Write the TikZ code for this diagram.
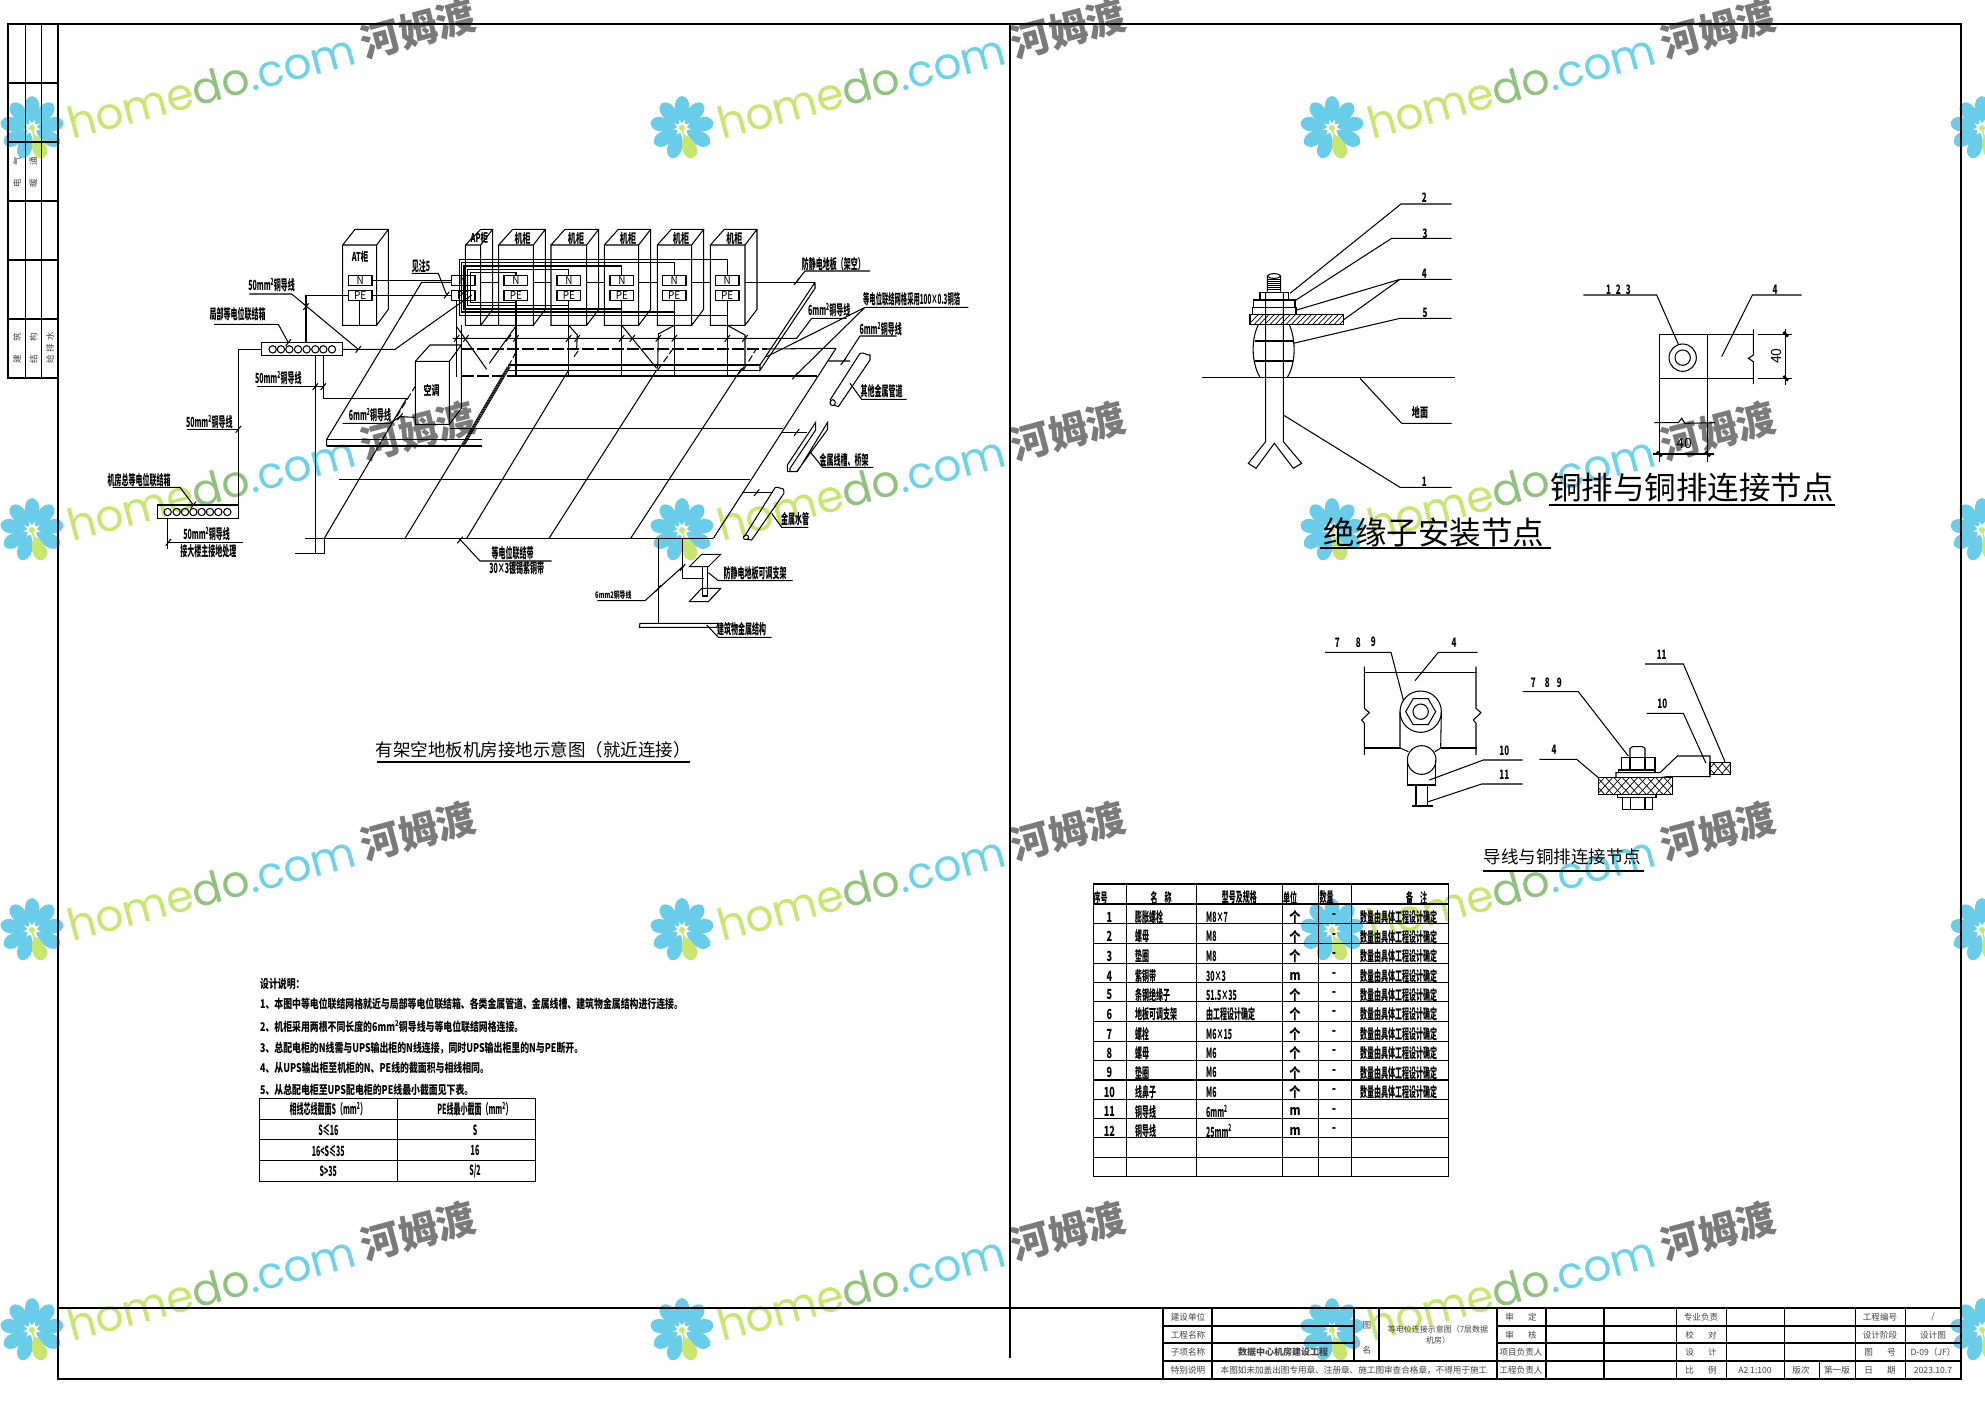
\documentclass[tikz,border=0pt]{standalone}
\usepackage{fontspec}
\setmainfont{Noto Sans CJK SC}
\newfontfamily\wmf{Poppins}
\newcommand\cadf{\fontsize{14}{14}\selectfont\bfseries}
\newcommand\numf{\fontsize{13}{13}\selectfont\bfseries}
\definecolor{wmlime}{HTML}{C6E66F}
\definecolor{wmgreen}{HTML}{8FC27C}
\definecolor{wmcyan}{HTML}{6CD2E8}
\definecolor{wmpetal}{HTML}{69CDEA}
\definecolor{wmgrey}{HTML}{7A7A7A}
\definecolor{tbgrey}{HTML}{444444}
\tikzset{
  wire/.style={line width=1.05pt,line join=miter},
  frameline/.style={line width=1.5pt},
  lbl/.style={inner sep=0pt,font=\cadf,xscale=.5},
  num/.style={inner sep=0pt,font=\numf,xscale=.62},
  tb/.style={inner sep=0pt,font=\fontsize{8.6}{10}\selectfont,text=tbgrey},
  note/.style={inner sep=0pt,anchor=west,font=\fontsize{12}{12}\selectfont\bfseries,xscale=.74},
  big/.style={inner sep=0pt,font=\fontsize{31.5}{32}\selectfont},
  mid/.style={inner sep=0pt,font=\fontsize{17.5}{18}\selectfont},
  zA/.style={shift={(60,190)},scale=1/3},
  zT/.style={shift={(240,960)},scale=1/3},
  zR/.style={shift={(1080,870)},scale=1/3},
  zI/.style={shift={(1180,180)},scale=1/3},
  zC/.style={shift={(1540,270)},scale=1/3},
  zW/.style={shift={(1320,620)},scale=1/3},
}
\newcommand\tk[2]{\draw[wire] (#1-8,#2+10)--(#1+8,#2-10);}
\newcommand\wmark[2]{%
  \begin{scope}[shift={(#1,#2)}]
    \foreach \a in {90,50,10,-30,-110,-150,170,130}{
      \fill[wmpetal,rotate=\a] (5,0) .. controls (12,8) and (30,11) .. (32,0) .. controls (30,-11) and (12,-8) .. (5,0);}
    \fill[wmlime,rotate=-70] (7,0) .. controls (14,8) and (30,11) .. (32,0) .. controls (30,-11) and (14,-8) .. (7,0);
    \fill[wmlime] (0,0) circle (3);
    \draw[wmlime,line width=1.5pt] (0,0)--(3,12);
    \node[inner sep=0pt,anchor=base west,rotate=15,font=\wmf\fontsize{44}{44}\selectfont] at (40,12)
      {\color{wmlime}home\color{wmgreen}do\color{wmcyan}.com};
    \node[inner sep=0pt,rotate=15,font=\bfseries\fontsize{39}{39}\selectfont,text=wmgrey] at (386,-99) {河姆渡};
  \end{scope}}
\begin{document}
\begin{tikzpicture}[x=1pt,y=-1pt]
\useasboundingbox (0,0) rectangle (1985,1403);
\fill[white] (0,0) rectangle (1985,1403);
% ---- watermarks
\foreach \wy in {128,530,930,1330}{\foreach \wx in {32,682,1332,1982}{\wmark{\wx}{\wy}}}
% ---- frame
\draw[frameline] (58,24)--(1961,24)--(1961,1379)--(58,1379)--cycle;
\draw[frameline] (1010,24)--(1010,1358);
\draw[frameline] (58,1308)--(1961,1308);
\draw[line width=2.2pt] (58,1379)--(1961,1379);
% sidebar
\draw[wire] (58,24)--(8,24)--(8,378)--(58,378);
\draw[wire] (25.7,24)--(25.7,378) (41.7,24)--(41.7,378);
\foreach \sy in {83,142,201,260,319}{\draw[wire] (8,\sy)--(58,\sy);}
\node[tb,rotate=90] at (17,172) {电\hspace{14pt}气};
\node[tb,rotate=90] at (33.5,172) {暖\hspace{14pt}通};
\node[tb,rotate=90] at (17,348) {建\hspace{14pt}筑};
\node[tb,rotate=90] at (33.5,348) {结\hspace{14pt}构};
\node[tb,rotate=90] at (50,348) {给\hspace{3pt}排\hspace{3pt}水};
% ---- main isometric drawing
\begin{scope}[zA]
 % AT cabinet
 \draw[wire] (848,165) rectangle (950,406) (848,165)--(885,118)--(985,118)--(950,165) (985,118)--(985,358)--(950,406);
 \draw[wire] (898,332)--(898,406);
 \node[num,font=\fontsize{12}{12}\selectfont\bfseries] (atlabel) at (900,200) {AT柜};
 % AP cabinet
 \draw[wire] (1216,406)--(1216,165)--(1262,118)--(1298,118)--(1262,165)--(1216,165) (1262,165)--(1262,406) (1298,118)--(1298,358)--(1262,406) (1216,406)--(1316,406);
 \node[num,font=\fontsize{12}{12}\selectfont\bfseries] at (1258,145) {AP柜};
 % server cabinets
 \foreach \xa/\xb/\tx in {1316/1420/1368,1473/1580/1526,1633/1736/1685,1792/1895/1843,1951/2055/2002}{
   \draw[wire] (\xa,165) rectangle (\xb,406) (\xa,165)--(\xa+42,118)--(\xb+36,118)--(\xb,165) (\xb+36,118)--(\xb+36,358)--(\xb,406);
   \node[num] at (\xb-32,145) {机柜};
 }
 % floor rear edge between cabinets
 \draw[wire] (1262,277)--(1316,277) (1420,277)--(1473,277) (1580,277)--(1633,277) (1736,277)--(1792,277) (1895,277)--(1951,277) (2055,277)--(2265,277);
 % nested N / PE wires
 \foreach \lx/\ty/\by/\tx in {1198/208/376/2002,1205/218/366/1843,1212/228/357/1685,1222/238/347/1526,1232/248/338/1368}{
   \draw[wire] (\tx,257)--(\tx,\ty)--(\lx,\ty)--(\lx,\by)--(\tx,\by)--(\tx,332);
 }
 % terminal boxes
 \foreach \bx/\by/\t in {865/257/N,865/302/PE,1174/257/N,1174/302/PE,1332/257/N,1332/302/PE,1491/257/N,1491/302/PE,1650/257/N,1650/302/PE,1807/257/N,1807/302/PE,1966/257/N,1966/302/PE}{
   \draw[wire] (\bx,\by) rectangle ++(71,30);
   \node[inner sep=0pt,font=\fontsize{11}{11}\selectfont,xscale=.9] at (\bx+35.5,\by+15) {\t};
 }
 \draw[wire] (935,272)--(1174,272) (935,317)--(1174,317);
 \draw[wire] (865,317)--(738,317)--(738,458);
 \tk{738}{350}\tk{1160}{315}
 % drops from the cabinets to the grid
 \foreach \tx in {1368,1526,1685,1843,2002}{\draw[wire] (\tx,332)--(\tx,558);}
 \draw[wire] (1190,332)--(1190,560) (1205,406)--(1205,465);
 \draw[wire] (1190,410)--(1280,538) (1368,408)--(1288,520);
 \draw[wire] (1526,406)--(1552,435)--(1550,475);
 \draw[wire] (1685,406)--(1790,535);
 \draw[wire] (1843,406)--(1795,432)--(1793,535);
 \draw[wire] (2002,406)--(2055,435)--(2055,525);
 % grid horizontals
 \draw[wire] (1178,445)--(2210,445)--(2255,385)--(2360,385);
 \draw[wire,dash pattern=on 12pt off 3pt] (1205,477)--(2120,477);
 \draw[wire] (2120,477)--(2328,475);
 \draw[wire,dash pattern=on 12pt off 3pt] (1205,558)--(1340,558);
 \draw[wire] (1340,558)--(2270,558);
 \draw[wire] (1170,715)--(2170,715);
 \draw[wire] (838,868)--(2070,868);
 \draw[wire] (735,1045)--(1960,1045);
 \draw[wire] (1345,525)--(2100,525) (1345,541)--(2100,541);
 % raised floor edge
 \draw[wire] (800,768)--(800,748)--(1085,277)--(1174,277);
 \draw[wire] (800,748)--(1265,748) (800,768)--(1265,768);
 \draw[wire] (2265,277)--(2265,295)--(2100,541)--(2100,525)--(2265,277);
 % hatched strip
 \foreach \o in {0,3,6,9}{\draw[line width=.7pt] (1205+\o,765)--(1342+\o,530);}
 % grid diagonals
 \draw[wire] (793,1045)--(1040,625);
 \draw[wire,dash pattern=on 7pt off 3pt] (1010,680)--(1065,590);
 \draw[wire] (1035,1045)--(1205,765);
 \draw[wire] (1220,1045)--(1526,540);
 \draw[wire] (1467,1045)--(1790,540);
 \draw[wire] (1712,1045)--(2045,535);
 \draw[wire] (1960,1045)--(2328,475);
 \draw[wire,dash pattern=on 7pt off 3pt] (1345,530)--(1372,478);
 \draw[wire,dash pattern=on 7pt off 3pt] (1542,500)--(1560,475);
 \draw[wire,dash pattern=on 7pt off 3pt] (1793,540)--(1840,475);
 \draw[wire,dash pattern=on 7pt off 3pt] (2050,540)--(2090,475);
 \foreach \t in {1190,1218,1345,1368,1526,1552,1685,1717,1795,1843,2002,2055}{\tk{\t}{445}}
 % air conditioner
 \draw[wire] (1066,514) rectangle (1168,703) (1066,514)--(1110,465)--(1204,465)--(1168,514) (1204,465)--(1204,655)--(1168,703);
 \draw[wire] (1204,477)--(1204,558);
 \node[num] at (1115,602) {空调};
 % local bus bar
 \draw[wire] (604,458) rectangle (847,496);
 \foreach \c in {638,663,688,714,740,766,790,816}{\draw[wire] (\c,478) circle (11);}
 \draw[wire] (604,478)--(535,478)--(535,945);
 \draw[wire] (847,478)--(1005,478)--(1235,315);
 \draw[wire] (766,496)--(766,1090) (705,1090)--(793,1090)--(793,1045);
 \draw[wire] (790,496)--(790,625)--(1040,625);
 % main bus bar
 \draw[wire] (292,945) rectangle (535,985);
 \foreach \c in {323,350,375,400,425,450,475,502}{\draw[wire] (\c,966) circle (11);}
 \draw[wire] (323,985)--(323,1078);
 % leaders
 \draw[wire] (1055,250)--(1135,250)--(1160,315);
 \draw[wire] (568,312)--(695,312)--(895,478); \tk{895}{478}
 \draw[wire] (462,403)--(655,403)--(685,458); \tk{685}{458}
 \draw[wire] (592,590)--(790,590); \tk{766}{590}\tk{790}{590}
 \draw[wire] (848,700)--(990,700)--(1020,680)--(1066,682); \tk{1020}{680}
 \draw[wire] (382,718)--(535,718); \tk{535}{718}
 \draw[wire] (158,892)--(360,892)--(400,945); \tk{400}{945}
 \draw[wire] (325,1057)--(550,1057); \tk{325}{1057}
 \draw[wire] (1197,1045)--(1260,1113)--(1475,1113); \tk{1200}{1050}
 % labels left
 \node[lbl] at (635,285) {50mm\textsuperscript{2}铜导线};
 \node[lbl] at (533,373) {局部等电位联结箱};
 \node[lbl] at (655,565) {50mm\textsuperscript{2}铜导线};
 \node[lbl] at (930,675) {6mm\textsuperscript{2}铜导线};
 \node[lbl] at (448,697) {50mm\textsuperscript{2}铜导线};
 \node[lbl] at (237,870) {机房总等电位联结箱};
 \node[lbl] at (440,1033) {50mm\textsuperscript{2}铜导线};
 \node[lbl] at (445,1085) {接大楼主接地处理};
 \node[lbl] at (1083,228) {见注5};
 \node[lbl] at (1358,1090) {等电位联结带};
 \node[lbl] at (1370,1135) {30×3镀锡紫铜带};
 % right side (+1320)
 \draw[wire] (2210,275)--(2235,243)--(2430,243); \tk{2210}{275}
 \node[lbl] at (2320,222) {防静电地板（架空）};
 \draw[wire] (2415,352)--(2725,352) (2415,352)--(2205,558) (2415,352)--(2120,500);
 \tk{2205}{558}\tk{2045}{540}
 \node[lbl,xscale=.9] at (2555,328) {等电位联结网格采用100×0.3铜箔};
 \node[lbl] at (2308,360) {6mm\textsuperscript{2}铜导线};
 \node[lbl] at (2462,417) {6mm\textsuperscript{2}铜导线};
 \draw[wire] (2510,438)--(2400,438)--(2350,515) (2305,513)--(2370,513); \tk{2350}{515}
 % other pipe
 \draw[wire] (2400,490)--(2310,630) (2430,510)--(2335,650)--(2322,645);
 \draw[wire] (2400,490) .. controls (2415,485) and (2418,498) .. (2430,495) .. controls (2425,500) and (2435,505) .. (2430,510);
 \draw[wire] (2318,638) ellipse (8 and 9);
 \draw[wire] (2540,628)--(2405,628)--(2370,580);
 \node[lbl] at (2465,603) {其他金属管道};
 % tray
 \draw[wire] (2182,845)--(2182,825)--(2267,697)--(2267,720)--(2190,835)--(2190,845) (2182,845)--(2212,845)--(2303,697)--(2303,718)--(2210,845);
 \draw[wire] (2165,727)--(2240,727); \tk{2210}{727}
 \draw[wire] (2250,785)--(2288,832)--(2440,832);
 \node[lbl] at (2352,810) {金属线槽、桥架};
 % water pipe
 \draw[wire] (2145,893)--(2053,1040) (2172,910)--(2075,1050)--(2060,1048);
 \draw[wire] (2145,893) .. controls (2155,888) and (2160,898) .. (2170,897) .. controls (2168,902) and (2175,905) .. (2172,910);
 \draw[wire] (2058,1042) ellipse (8 and 7);
 \draw[wire] (2045,908)--(2140,908); \tk{2090}{908}
 \draw[wire] (2245,1012)--(2165,1012)--(2135,970);
 \node[lbl] at (2205,988) {金属水管};
 % support & structure
 \draw[wire] (1795,1045)--(1795,1300);
 \draw[wire] (1740,1300)--(1975,1300)--(1970,1312)--(1738,1312)--cycle;
 \draw[wire] (1940,1305)--(1975,1342)--(2135,1342);
 \node[lbl] at (2045,1318) {建筑物金属结构};
 \draw[wire] (1868,1045)--(1868,1165)--(1932,1165);
 \draw[wire] (1888,1130)--(1925,1093)--(1982,1093)--(1945,1130)--cycle;
 \draw[wire] (1927,1130)--(1927,1218)--(1942,1218)--(1942,1130);
 \draw[wire] (1888,1235)--(1925,1195)--(1982,1195)--(1945,1235)--cycle;
 \draw[wire] (1945,1148)--(1975,1172)--(2198,1172);
 \node[lbl] at (2085,1148) {防静电地板可调支架};
 \draw[wire] (1612,1232)--(1755,1232)--(1868,1130); \tk{1795}{1195}\tk{1868}{1132}
 \node[lbl,font=\fontsize{9}{9}\selectfont\bfseries,xscale=1.3] at (1660,1215) {6mm2铜导线};
\end{scope}
% title left
\node[mid] (titleleft) at (533,750) {有架空地板机房接地示意图（就近连接）};
\draw[line width=1.8pt] (377,762)--(690,762);
% ---- design notes
\begin{scope}[zT]
 \node[note] at (60,72) {设计说明：};
 \node[note] at (60,133) {1、本图中等电位联结网格就近与局部等电位联结箱、各类金属管道、金属线槽、建筑物金属结构进行连接。};
 \node[note] at (60,200) {2、机柜采用两根不同长度的6mm\textsuperscript{2}铜导线与等电位联结网格连接。};
 \node[note] at (60,265) {3、总配电柜的N线需与UPS输出柜的N线连接，同时UPS输出柜里的N与PE断开。};
 \node[note] at (60,325) {4、从UPS输出柜至机柜的N、PE线的截面积与相线相同。};
 \node[note] at (60,390) {5、从总配电柜至UPS配电柜的PE线最小截面见下表。};
 \draw[wire] (58,415) rectangle (886,664) (472,415)--(472,664);
 \foreach \ry in {478,539,601}{\draw[wire] (58,\ry)--(886,\ry);}
 \node[lbl] at (265,447) {相线芯线截面S（mm\textsuperscript{2}）};
 \node[lbl] at (705,447) {PE线最小截面（mm\textsuperscript{2}）};
 \node[lbl] at (265,510) {S≤16}; \node[lbl] at (705,510) {S};
 \node[lbl] at (265,572) {16<S≤35}; \node[lbl] at (705,572) {16};
 \node[lbl] at (265,634) {S>35}; \node[lbl] at (705,634) {S/2};
\end{scope}
% ---- material table
\begin{scope}[zR]
 \draw[wire] (40,42) rectangle (1105,920);
 \foreach \cx in {140,350,608,716,815}{\draw[wire] (\cx,42)--(\cx,920);}
 \foreach \ry in {102,160,220,280,338,395,455,515,572,630,688,745,803,862}{\draw[wire] (40,\ry)--(1105,\ry);}
 \node[lbl] at (62,83) {序号};
 \node[lbl] at (243,83) {名\hspace{14pt}称};
 \node[lbl] at (478,83) {型号及规格};
 \node[lbl] at (630,83) {单位};
 \node[lbl] at (740,83) {数量};
 \node[lbl] at (1010,83) {备\hspace{14pt}注};
 \foreach \ry/\n/\a/\b/\u in {142/1/膨胀螺栓/M8×7/个,200/2/螺母/M8/个,258/3/垫圈/M8/个,318/4/紫铜带/30×3/m,375/5/条钢绝缘子/51.5×35/个,432/6/地板可调支架/由工程设计确定/个,493/7/螺栓/M6×15/个,550/8/螺母/M6/个,608/9/垫圈/M6/个,666/10/线鼻子/M6/个,725/11/铜导线/6mm\textsuperscript{2}/m,783/12/铜导线/25mm\textsuperscript{2}/m}{
   \node[lbl,xscale=1.3] at (88,\ry) {\n};
   \node[lbl,anchor=west] at (165,\ry) {\a};
   \node[lbl,anchor=west] at (378,\ry) {\b};
   \node[lbl,xscale=1.6] at (645,\ry) {\u};
   \node[lbl,xscale=1.6] at (762,\ry-3) {-};
 }
 \foreach \ry in {142,200,258,318,375,432,493,550,608,666}{
   \node[lbl,anchor=west] at (840,\ry) {数量由具体工程设计确定};
 }
\end{scope}
% ---- insulator detail
\begin{scope}[zI]
 \draw[wire] (262,335)--(262,288) (302,335)--(302,288) (282,288) ellipse (20 and 7);
 \foreach \ty in {298,304,310,316,322,328}{\draw[line width=.6pt] (262,\ty)--(302,\ty);}
 \draw[wire] (240,358)--(240,337)--(325,337)--(325,358);
 \draw[wire] (220,380)--(220,360)--(345,360)--(345,380);
 \draw[wire] (218,403)--(218,382)--(348,382)--(348,403);
 \begin{scope}
  \clip (210,403) rectangle (490,434);
  \foreach \hx in {200,216,...,520}{\draw[line width=.7pt] (\hx,440)--(\hx+40,398);}
 \end{scope}
 \draw[wire] (210,403) rectangle (490,434);
 \draw[wire] (235,434) .. controls (212,480) and (215,550) .. (240,592);
 \draw[wire] (328,434) .. controls (348,480) and (348,550) .. (322,592);
 \draw[wire] (225,483)--(338,483);
 \draw[wire] (225,543)--(338,543);
 \draw[wire] (257,337)--(257,785)--(205,850)--(228,865)--(283,790)--(340,865)--(365,850)--(310,785)--(310,337);
 \draw[wire] (67,592)--(825,592);
 \draw[wire] (330,340)--(663,72)--(815,72);
 \draw[wire] (345,362)--(635,175)--(815,175);
 \draw[wire] (350,390)--(660,298)--(815,298) (490,420)--(660,298);
 \draw[wire] (340,490)--(660,415)--(815,415);
 \draw[wire] (540,595)--(665,730)--(815,730);
 \draw[wire] (310,705)--(660,922)--(815,922);
 \node[num] at (733,52) {2}; \node[num] at (735,160) {3}; \node[num] at (733,280) {4};
 \node[num] at (735,398) {5}; \node[num] at (720,697) {地面}; \node[num] at (733,905) {1};
\end{scope}
\node[big] (titleins) at (1434,532) {绝缘子安装节点};
\draw[line width=1.8pt] (1320,548)--(1551,548);
% ---- copper bar joint
\begin{scope}[zC]
 \draw[wire] (358,193)--(640,193) (358,325)--(640,325) (358,193)--(358,575) (503,193)--(503,575);
 \draw[wire] (640,178)--(640,255)--(625,265)--(640,275)--(640,342);
 \draw[wire] (343,458)--(415,458)--(425,445)--(435,460)--(525,458);
 \draw[wire] (428,263) circle (41) (428,263) circle (23);
 \draw[wire] (655,193)--(755,193) (655,325)--(755,325) (737,178)--(737,345);
 \draw[wire] (338,552)--(522,552);
 \foreach \p in {(737,193),(737,325),(358,552),(503,552)}{
   \draw[line width=2.6pt] \p ++(-7,-7)--++(14,14);}
 \node[inner sep=0pt,rotate=90,font=\fontsize{14}{14}\selectfont] at (708,258) {40};
 \node[inner sep=0pt,font=\fontsize{14}{14}\selectfont] at (432,522) {40};
 \draw[wire] (130,75)--(350,75)--(416,225);
 \draw[wire] (545,260)--(637,75)--(785,75);
 \node[num] at (235,58) {1\hspace{8pt}2\hspace{8pt}3};
 \node[num] at (705,58) {4};
\end{scope}
\node[big] (titlecopper) at (1692,488) {铜排与铜排连接节点};
\draw[line width=2pt] (1549,505)--(1835,505);
% ---- wire joint
\begin{scope}[zW]
 \draw[wire] (133,157)--(470,157) (133,384)--(240,384) (362,384)--(470,384);
 \draw[wire] (133,140)--(133,265)--(148,278)--(125,300)--(133,310)--(133,405);
 \draw[wire] (468,140)--(468,265)--(483,278)--(460,300)--(468,310)--(468,405);
 \draw[wire] (302,275) circle (62) (302,275) circle (23);
 \draw[wire] (347,275)--(324.5,314)--(279.5,314)--(257,275)--(279.5,236)--(324.5,236)--cycle;
 \draw[wire] (240,275)--(240,384)--(265,395) (364,275)--(362,384)--(345,395);
 \draw[wire] (305,420) circle (43);
 \draw[wire] (262,420)--(262,495)--(347,495)--(347,420);
 \draw[wire] (288,495)--(288,558) (323,495)--(323,558) (277,558)--(338,558);
 \draw[wire] (15,97)--(213,97)--(250,240);
 \draw[wire] (285,182)--(355,97)--(473,97);
 \draw[wire] (328,480)--(490,420)--(608,420);
 \draw[wire] (325,545)--(485,492)--(608,492);
 \node[num] at (52,68) {7}; \node[num] at (115,68) {8}; \node[num] at (160,66) {9};
 \node[num] at (402,68) {4}; \node[num] at (553,392) {10}; \node[num] at (553,463) {11};
 % side view
 \begin{scope}
  \clip (835,473) rectangle (1058,523);
  \foreach \hx in {800,825,...,1080}{\draw[line width=.7pt] (\hx,530)--(\hx+60,465) (\hx,465)--(\hx+60,530);}
 \end{scope}
 \draw[wire] (835,473) rectangle (1058,523);
 \begin{scope}
  \clip (1170,428) rectangle (1232,463);
  \foreach \hx in {1150,1175,...,1230}{\draw[line width=.7pt] (\hx,468)--(\hx+38,423) (\hx,423)--(\hx+38,468);}
 \end{scope}
 \draw[wire] (1170,428) rectangle (1232,463);
 \draw[wire] (930,412)--(930,385)--(938,380)--(967,380)--(975,385)--(975,412);
 \draw[wire] (905,450) rectangle (1005,412) (930,412)--(930,450) (975,412)--(975,450);
 \draw[wire] (895,450) rectangle (1005,458);
 \draw[wire] (888,473)--(888,458)--(1020,458)--(1072,408)--(1170,408)--(1170,470)--(1040,470)--(1020,473);
 \draw[wire] (892,523) rectangle (1008,533);
 \draw[wire] (908,533) rectangle (998,568) (932,533)--(932,568) (975,533)--(975,568);
 \draw[wire] (608,215)--(775,215)--(925,408);
 \draw[wire] (658,418)--(770,418)--(835,473);
 \draw[wire] (980,280)--(1090,280)--(1158,430);
 \draw[wire] (975,132)--(1090,132)--(1215,425);
 \node[num] at (640,187) {7}; \node[num] at (682,187) {8}; \node[num] at (718,187) {9};
 \node[num] at (702,390) {4}; \node[num] at (1027,252) {10}; \node[num] at (1025,105) {11};
 \node[mid] (titlewire) at (728,712) {导线与铜排连接节点};
 \draw[line width=1.8pt] (490,752)--(972,752);
\end{scope}
% ---- title block
\foreach \cx in {1163,1212,1497,1546,1604,1676,1726,1784,1855,1905}{\draw[wire] (\cx,1308)--(\cx,1379);}
\draw[wire] (1354,1308)--(1354,1361) (1379,1308)--(1379,1361) (1819,1361)--(1819,1379);
\foreach \ry in {1326,1343}{\draw[wire] (1163,\ry)--(1354,\ry) (1497,\ry)--(1961,\ry);}
\draw[wire] (1163,1361)--(1961,1361);
\node[tb] at (1188,1317) {建设单位}; \node[tb] at (1188,1335) {工程名称};
\node[tb] at (1188,1352) {子项名称}; \node[tb] at (1188,1370) {特别说明};
\node[tb,font=\fontsize{9}{10}\selectfont\bfseries] at (1283,1352) {数据中心机房建设工程};
\node[tb] at (1354,1370) {本图如未加盖出图专用章、注册章、施工图审查合格章，不得用于施工};
\node[tb] at (1367,1325) {图}; \node[tb] at (1367,1350) {名};
\node[tb,align=center,font=\fontsize{8}{11.5}\selectfont] at (1438,1335) {等电位连接示意图（7层数据\\机房）};
\node[tb] at (1521,1317) {审\hspace{14pt}定}; \node[tb] at (1521,1335) {审\hspace{14pt}核};
\node[tb] at (1521,1352) {项目负责人}; \node[tb] at (1521,1370) {工程负责人};
\node[tb] at (1701,1317) {专业负责}; \node[tb] at (1701,1335) {校\hspace{14pt}对};
\node[tb] at (1701,1352) {设\hspace{14pt}计}; \node[tb] at (1701,1370) {比\hspace{14pt}例};
\node[tb] at (1755,1370) {A2 1:100}; \node[tb] at (1801,1370) {版次}; \node[tb] at (1837,1370) {第一版};
\node[tb] at (1880,1317) {工程编号}; \node[tb] at (1880,1335) {设计阶段};
\node[tb] at (1880,1352) {图\hspace{14pt}号}; \node[tb] at (1880,1370) {日\hspace{14pt}期};
\node[tb] at (1933,1317) {/}; \node[tb] at (1933,1335) {设计图};
\node[tb] at (1933,1352) {D-09（JF）}; \node[tb] at (1933,1370) {2023.10.7};
\end{tikzpicture}
\end{document}
